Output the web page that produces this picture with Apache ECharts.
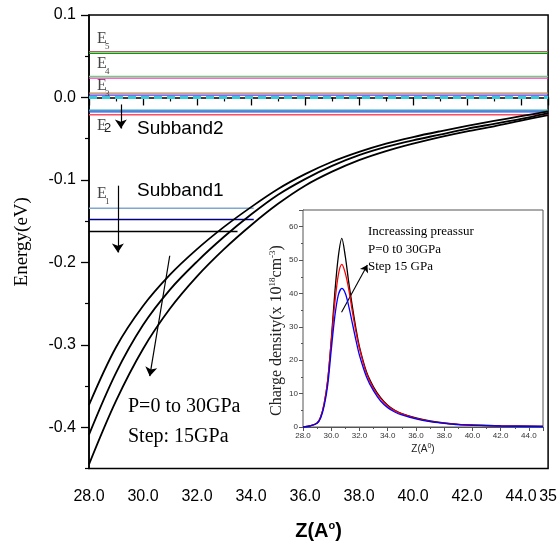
<!DOCTYPE html>
<html><head><meta charset="utf-8">
<script src="https://cdn.jsdelivr.net/npm/echarts@6/dist/echarts.min.js"></script>
<style>html,body{margin:0;padding:0;background:#fff}#c{width:560px;height:546px}</style>
</head><body><div id="c"></div>
<script>
// ---- main chart data ----
const zCurve = [28,29,30,31,32,33,34,35,36,37,38,39,40,41,42,43,44,45];
const curveA = [-0.373,-0.303,-0.253,-0.215,-0.184,-0.157,-0.133,-0.111,-0.093,-0.078,-0.066,-0.056,-0.048,-0.041,-0.0345,-0.0285,-0.0227,-0.017];
const curveB = [-0.409,-0.334,-0.276,-0.233,-0.199,-0.169,-0.142,-0.118,-0.099,-0.083,-0.070,-0.060,-0.052,-0.045,-0.038,-0.032,-0.026,-0.019];
const curveC = [-0.445,-0.368,-0.305,-0.256,-0.217,-0.184,-0.155,-0.129,-0.107,-0.090,-0.076,-0.065,-0.056,-0.048,-0.041,-0.035,-0.028,-0.0215];
const levelValues = [0.0555, 0.0535, 0.0255, 0.0235, 0.0052, 0.0028, -0.0155, -0.0175, -0.021];
const fermiLevel = 0.0;
const e1Levels = [-0.1345, -0.148, -0.1625];
const e1Ends = [34.1, 34.1, 33.5];
const zStart = 28, zEnd = 45;
const yMajorTicks = [-0.4,-0.3,-0.2,-0.1,0.0,0.1];
const yMinorTicks = [-0.45,-0.35,-0.25,-0.15,-0.05,0.05];
// ---- inset data ----
const zDen = [28,28.5,29,29.25,29.5,29.75,30,30.25,30.5,30.75,31,31.25,31.5,31.75,32,32.5,33,33.5,34,34.5,35,36,37,38,39,40,42,45];
const den0  = [0,0.3,1.2,3.0,7.0,14,26,40,51,56.5,51,43,36,29.5,24,16.5,12,8.8,6.5,5.0,4.0,2.7,1.8,1.2,0.8,0.6,0.35,0.2];
const den15 = [0,0.3,1.2,3.0,7.0,14,25.5,37,45.5,48.7,46,41,34.5,28.5,23.5,16,11.5,8.5,6.3,4.9,3.9,2.6,1.7,1.15,0.75,0.55,0.32,0.18];
const den30 = [0,0.3,1.1,2.7,6.3,12.5,23,33,39.5,41.5,40,36,31,26,21.5,15,10.8,7.8,5.8,4.5,3.6,2.4,1.6,1.1,0.7,0.5,0.3,0.15];

const levelColors = ['#b05a6a','#00a000','#50e070','#ff30c0','#b8865a','#5a3cd8','#33aaaa','#3a3aff','#ff4d5a'];
const e1Colors = ['#7fa8d0','#000080','#000000'];
const SANS = "'Liberation Sans',Arial,sans-serif";
const SERIF = "'Liberation Serif','Times New Roman',serif";

const zip = (xs, ys) => xs.map((x,i)=>[x, ys[i]]);
const chart = echarts.init(document.getElementById('c'), null, {renderer:'canvas'});

const series = [];
levelValues.forEach((v,i)=>{
  series.push({type:'line', xAxisIndex:0, yAxisIndex:0, data:[[zStart,v],[zEnd,v]], symbol:'none', silent:true,
    lineStyle:{color:levelColors[i], width:1.3}, z:3});
});
series.push({type:'line', xAxisIndex:0, yAxisIndex:0, data:[[zStart,fermiLevel],[zEnd,fermiLevel]], symbol:'none', silent:true,
  lineStyle:{color:'#3cc8d8', width:3, type:[8,5]}, z:3});
e1Levels.forEach((v,i)=>{
  series.push({type:'line', xAxisIndex:0, yAxisIndex:0, data:[[zStart,v],[e1Ends[i],v]], symbol:'none', silent:true,
    lineStyle:{color:e1Colors[i], width:1.5}, z:3});
});
[curveA, curveB, curveC].forEach((c,i)=>{
  const s = {type:'line', xAxisIndex:0, yAxisIndex:0, data:zip(zCurve,c), symbol:'none', smooth:0.35, silent:true,
    lineStyle:{color:'#000', width:1.8}, z:4};
  if(i===0){
    s.markLine = {silent:true, symbol:['none','arrow'], symbolSize:9, label:{show:false},
      lineStyle:{color:'#000', width:1.2, type:'solid'},
      data:[
        [{coord:[29.18,-0.0085]},{coord:[29.18,-0.0377]}],
        [{coord:[29.07,-0.107]},{coord:[29.07,-0.188]}],
        [{coord:[30.99,-0.192]},{coord:[30.25,-0.338]}]
      ]};
  }
  series.push(s);
});
const denColors = ['#000000','#ff0000','#0000ff'];
[den0, den15, den30].forEach((d,i)=>{
  const s = {type:'line', xAxisIndex:1, yAxisIndex:2, data:zip(zDen,d), symbol:'none', smooth:0.3, silent:true,
    lineStyle:{color:denColors[i], width:1.3}, z:5};
  if(i===0){
    s.markLine = {silent:true, symbol:['none','arrow'], symbolSize:7, label:{show:false},
      lineStyle:{color:'#000', width:1.1, type:'solid'},
      data:[[{coord:[30.73,34.4]},{coord:[32.56,48.5]}]]};
  }
  series.push(s);
});

const txt = (text, x, y, font, extra) => Object.assign({type:'text', z:10, silent:true,
  style:Object.assign({text, x, y, font, fill:'#000', textVerticalAlign:'middle', textAlign:'left'}, extra||{})});

const option = {
  animation:false,
  backgroundColor:'#fff',
  grid:[
    {left:89, top:15, right:10, bottom:77, show:true, borderColor:'#000', borderWidth:1.5},
    {left:303, top:210, width:240, height:217, show:true, borderColor:'#555', borderWidth:1, backgroundColor:'#fff', z:2}
  ],
  xAxis:[
    {type:'value', gridIndex:0, min:28, max:45, interval:2,
     axisLine:{show:true, lineStyle:{color:'#000', width:1.5}},
     axisTick:{show:true, length:8, lineStyle:{color:'#000', width:1.3}},
     minorTick:{show:true, splitNumber:2, length:4, lineStyle:{color:'#000', width:1.2}},
     splitLine:{show:false},
     axisLabel:{fontFamily:SANS, fontSize:16, color:'#000', margin:20, showMinLabel:true, showMaxLabel:true,
       formatter:(v)=> v===45 ? '35' : v.toFixed(1)},
     name:'{a|Z(A}{b|o}{a|)}', nameLocation:'middle', nameGap:52,
     nameTextStyle:{rich:{a:{fontFamily:SANS, fontSize:20, fontWeight:'bold', color:'#000'},
                          b:{fontFamily:SANS, fontSize:11, fontWeight:'bold', color:'#000', verticalAlign:'top', padding:[0,0,10,0]}}}},
    {type:'value', gridIndex:1, min:28, max:45, interval:2,
     axisLine:{show:true, lineStyle:{color:'#555', width:1}},
     axisTick:{show:true, length:4, lineStyle:{color:'#555'}},
     minorTick:{show:true, splitNumber:2, length:2, lineStyle:{color:'#555'}},
     splitLine:{show:false},
     axisLabel:{fontFamily:SANS, fontSize:8, color:'#333', margin:5, showMaxLabel:false, formatter:(v)=>v.toFixed(1)},
     name:'{a|Z(A}{b|0}{a|)}', nameLocation:'middle', nameGap:16,
     nameTextStyle:{rich:{a:{fontFamily:SANS, fontSize:10, color:'#222'},
                          b:{fontFamily:SANS, fontSize:7, color:'#222', verticalAlign:'top', padding:[0,0,6,0]}}}}
  ],
  yAxis:[
    {type:'value', gridIndex:0, min:-0.45, max:0.1,
     axisLine:{show:true, lineStyle:{color:'#000', width:1.5}},
     axisTick:{show:true, length:8, customValues:yMajorTicks, lineStyle:{color:'#000', width:1.3}},
     splitLine:{show:false},
     axisLabel:{fontFamily:SANS, fontSize:16, color:'#000', margin:13, customValues:yMajorTicks,
       formatter:(v)=>{const s=(Math.abs(v)<1e-9?0:v).toFixed(1); return s;}},
     name:'Energy(eV)', nameLocation:'middle', nameGap:57,
     nameTextStyle:{fontFamily:SERIF, fontSize:19, color:'#000'}},
    {type:'value', gridIndex:0, min:-0.45, max:0.1, position:'left', offset:0,
     axisLine:{show:false},
     axisTick:{show:true, length:4, customValues:yMinorTicks, lineStyle:{color:'#000', width:1.2}},
     splitLine:{show:false}, axisLabel:{show:false}},
    {type:'value', gridIndex:1, min:0, max:65, interval:10,
     axisLine:{show:true, lineStyle:{color:'#555', width:1}},
     axisTick:{show:true, length:4, lineStyle:{color:'#555'}},
     minorTick:{show:true, splitNumber:2, length:2, lineStyle:{color:'#555'}},
     splitLine:{show:false},
     axisLabel:{fontFamily:SANS, fontSize:8, color:'#333', margin:5, showMaxLabel:false},
     name:'{a|Charge density(x 10}{b|18}{a|cm}{b|-3}{a|)}', nameLocation:'middle', nameGap:18,
     nameTextStyle:{padding:[0,24,0,0], rich:{a:{fontFamily:SERIF, fontSize:16, color:'#222'},
                          b:{fontFamily:SERIF, fontSize:9, color:'#222', verticalAlign:'top', padding:[0,0,8,0]}}}}
  ],
  series,
  graphic:[
    txt('E', 97, 38.5, "16px "+SERIF, {fill:'#444'}), txt('5', 105, 46.5, "9px "+SERIF, {fill:'#444'}),
    txt('E', 97, 63.5, "16px "+SERIF, {fill:'#444'}), txt('4', 105, 71.5, "9px "+SERIF, {fill:'#444'}),
    txt('E', 97, 85.5, "16px "+SERIF, {fill:'#444'}), txt('3', 105, 93.5, "9px "+SERIF, {fill:'#444'}),
    txt('E', 97, 125.5, "16px "+SERIF, {fill:'#444'}), txt('2', 104, 128, "13px "+SANS, {fill:'#222'}),
    txt('E', 97, 194, "16px "+SERIF, {fill:'#444'}), txt('1', 105, 201.5, "9px "+SERIF, {fill:'#444'}),
    txt('Subband2', 137, 129, "19px "+SANS),
    txt('Subband1', 137, 191, "19px "+SANS),
    txt('P=0 to 30GPa', 128, 407, "20px "+SERIF),
    txt('Step: 15GPa', 128, 437, "20px "+SERIF),
    txt('Increassing preassur', 368, 232, "13px "+SERIF),
    txt('P=0 t0 30GPa', 368, 249.5, "13px "+SERIF),
    txt('Step 15 GPa', 368, 267, "13px "+SERIF)
  ]
};
chart.setOption(option);
</script></body></html>
